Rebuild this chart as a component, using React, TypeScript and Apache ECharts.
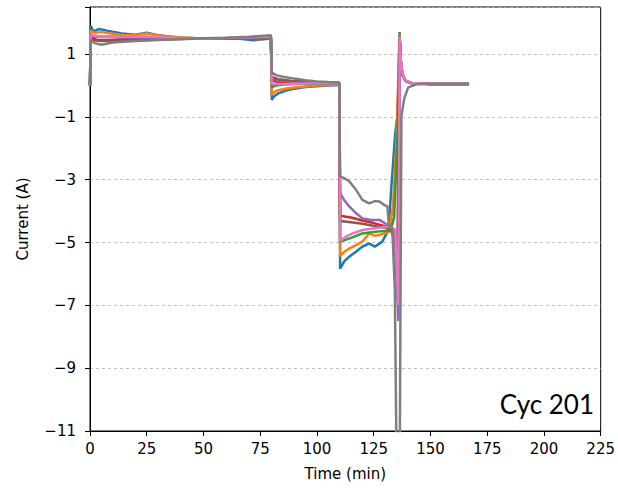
import React, { useEffect, useRef } from "react";
import * as echarts from "echarts";

const seriesNames = ["c1", "c2", "c3", "c4", "c5", "c6", "c7", "c8"];
const colors = ["#1f77b4", "#ff7f0e", "#2ca02c", "#d62728", "#9467bd", "#8c564b", "#e377c2", "#7f7f7f"];

const xTicks = [0, 25, 50, 75, 100, 125, 150, 175, 200, 225];
const yTicks = [-11, -9, -7, -5, -3, -1, 1];

const blue = [
  [0, 0], [0.3, 1.9], [1.5, 1.72], [4, 1.8], [8, 1.74], [14, 1.66], [20, 1.62], [25, 1.68], [30, 1.6], [40, 1.52], [50, 1.5], [65, 1.5], [72, 1.44], [79.7, 1.5],
  [80.1, -0.46], [81, -0.35], [83, -0.25], [86, -0.17], [90, -0.1], [95, -0.05], [100, -0.02], [105, 0.0], [109.8, 0.02],
  [110.2, -5.83], [112, -5.6], [114.2, -5.45], [117, -5.3], [120, -5.13], [123, -5.03], [125.5, -5.13], [128.8, -4.97], [131.5, -4.6], [133, -3.0], [134.5, -1.5], [135.6, -0.9], [136.4, 1.7], [136.9, 0.8], [137.6, 0.35], [139, 0.15], [142, 0.07], [150, 0.05], [167, 0.05],
];
const orange = [
  [0, 0], [0.3, 1.75], [2, 1.68], [5, 1.7], [10, 1.65], [15, 1.6], [20, 1.6], [25, 1.66], [30, 1.6], [35, 1.55], [50, 1.5], [70, 1.5], [75, 1.47], [79.7, 1.52],
  [80.1, -0.3], [81, -0.22], [83, -0.15], [86, -0.1], [90, -0.06], [95, -0.03], [100, 0], [105, 0.02], [109.8, 0.03],
  [110.2, -5.43], [112, -5.3], [114.2, -5.19], [118, -5.05], [120, -4.97], [123, -4.71], [125.5, -4.78], [127.5, -4.76], [130, -4.7], [132, -4.65], [133.5, -3.8], [135, -1.8], [136.4, 1.65], [136.9, 0.8], [137.6, 0.35], [139, 0.15], [142, 0.07], [150, 0.05], [167, 0.05],
];
const green = [
  [0, 0], [0.3, 1.6], [3, 1.55], [10, 1.55], [20, 1.5], [25, 1.53], [35, 1.5], [50, 1.5], [79.7, 1.52],
  [80.1, -0.05], [82, 0.0], [85, 0.03], [90, 0.05], [100, 0.06], [109.8, 0.07],
  [110.2, -4.97], [115, -4.85], [120, -4.71], [125, -4.66], [130, -4.63], [132.5, -4.6], [134, -4.2], [135.5, -1.5], [136.4, 1.6], [136.9, 0.8], [137.6, 0.35], [139, 0.15], [142, 0.07], [150, 0.05], [167, 0.05],
];
const red = [
  [0, 0], [0.3, 1.55], [3, 1.45], [8, 1.45], [20, 1.47], [30, 1.48], [50, 1.5], [79.7, 1.5],
  [80.1, 0.15], [83, 0.12], [90, 0.1], [100, 0.08], [109.8, 0.08],
  [110.2, -4.15], [115, -4.2], [120, -4.3], [125, -4.38], [130, -4.48], [132.5, -4.55], [134.3, -5.0], [135.8, -6.15], [136.4, 1.5], [136.9, 0.8], [137.6, 0.35], [139, 0.15], [142, 0.07], [150, 0.05], [167, 0.05],
];
const purple = [
  [0, 0], [0.3, 1.6], [5, 1.55], [25, 1.52], [50, 1.5], [79.7, 1.52],
  [80.1, 0.22], [83, 0.17], [90, 0.12], [100, 0.09], [109.8, 0.08],
  [110.2, -3.43], [112, -3.65], [114.2, -3.85], [117, -4.05], [120, -4.23], [124, -4.28], [127.5, -4.28], [131.2, -4.44], [134, -4.6], [135.9, -7.5], [136.4, 1.5], [136.9, 0.8], [137.6, 0.35], [139, 0.15], [142, 0.07], [150, 0.05], [167, 0.05],
];
const brown = [
  [0, 0], [0.3, 1.45], [5, 1.42], [15, 1.43], [25, 1.45], [50, 1.5], [79.7, 1.52],
  [80.1, 0.27], [83, 0.2], [90, 0.14], [100, 0.1], [109.8, 0.09],
  [110.2, -4.31], [115, -4.35], [120, -4.4], [126, -4.48], [132, -4.55], [133.5, -4.7], [134.5, -4.95], [135.5, -4.7], [136.4, 1.5], [136.9, 0.8], [137.6, 0.35], [139, 0.15], [142, 0.07], [150, 0.05], [167, 0.05],
];
const pink = [
  [0, 0], [0.3, 1.6], [5, 1.55], [15, 1.55], [25, 1.56], [35, 1.52], [50, 1.5], [79.7, 1.55],
  [80.1, 0.05], [83, 0.05], [90, 0.06], [100, 0.07], [109.8, 0.08],
  [110.2, -4.95], [113, -4.8], [116, -4.7], [120, -4.6], [125, -4.55], [130, -4.5], [133, -4.52], [134.5, -4.6], [135.9, -7.0], [136.4, 1.55], [136.9, 0.9], [137.6, 0.4], [139, 0.15], [142, 0.08], [150, 0.06], [167, 0.06],
];
const gray = [
  [0, 0], [0.3, 1.45], [2, 1.35], [5, 1.3], [10, 1.37], [20, 1.42], [30, 1.45], [45, 1.5], [60, 1.52], [70, 1.55], [79.7, 1.6],
  [80.1, 0.41], [82, 0.33], [85, 0.28], [90, 0.22], [95, 0.17], [100, 0.13], [105, 0.11], [109.8, 0.1],
  [110.2, -2.89], [112, -2.95], [114.2, -3.05], [117, -3.3], [120, -3.64], [123, -3.75], [125.5, -3.68], [127.5, -3.69], [129.6, -3.8], [131, -3.85], [131.8, -4.49], [133.2, -4.55], [134.3, -6.5], [135, -11.5], [136.5, -11.5], [137.2, -0.97], [138.5, -0.4], [140.2, -0.06], [143.9, 0.04], [150, 0.05], [167, 0.05],
];

const seriesData = [blue, orange, green, red, purple, brown, pink, gray];

const fmtNum = (v: number) => (v < 0 ? "\u2212" + String(Math.abs(v)) : String(v));

export default function App() {
  const ref = useRef<HTMLDivElement>(null);
  useEffect(() => {
    if (!ref.current) return;
    const chart = echarts.init(ref.current, undefined, { renderer: "svg" });
    const font = "DejaVu Sans";
    chart.setOption({
      animation: false,
      backgroundColor: "#ffffff",
      grid: { left: 90, right: 16, top: 7, bottom: 57, show: true, borderColor: "#000", borderWidth: 1, backgroundColor: "transparent" },
      xAxis: {
        type: "value",
        min: xTicks[0],
        max: xTicks[xTicks.length - 1],
        interval: 25,
        name: "Time (min)",
        nameLocation: "middle",
        nameGap: 35,
        nameTextStyle: { fontFamily: font, fontSize: 15, color: "#000" },
        axisLine: { show: true, onZero: false, lineStyle: { color: "#000", width: 1 } },
        axisTick: { show: true, length: 5, lineStyle: { color: "#000" } },
        axisLabel: { fontFamily: font, fontSize: 15, color: "#000", margin: 10, formatter: (v: number) => fmtNum(v) },
        splitLine: { show: false },
      },
      yAxis: {
        type: "value",
        min: yTicks[0],
        max: 2.5,
        interval: 2,
        name: "Current (A)",
        nameLocation: "middle",
        nameGap: 60,
        nameTextStyle: { fontFamily: font, fontSize: 15, color: "#000" },
        axisLine: { show: true, onZero: false, lineStyle: { color: "#000", width: 1 } },
        axisTick: { show: true, length: 5, lineStyle: { color: "#000" } },
        axisLabel: {
          fontFamily: font, fontSize: 15, color: "#000", margin: 14,
          formatter: (v: number) => (yTicks.indexOf(v) >= 0 ? fmtNum(v) : ""),
        },
        splitLine: { show: true, lineStyle: { color: "#b0b0b0", type: [3, 3], width: 0.8 } },
      },
      graphic: [
        {
          type: "text",
          right: 24,
          top: 391,
          style: { text: "Cyc 201", font: "26px Lato", fill: "#000" },
          z: 100,
        },
      ],
      series: seriesData.map((d, i) => ({
        name: seriesNames[i],
        type: "line",
        data: d,
        showSymbol: false,
        symbol: "none",
        lineStyle: { color: colors[i], width: 2.5 },
        itemStyle: { color: colors[i] },
        clip: true,
        z: 2 + i,
      })),
    });
    return () => chart.dispose();
  }, []);
  return <div ref={ref} style={{ position: "fixed", left: 0, top: 0, width: 618, height: 488 }} />;
}
